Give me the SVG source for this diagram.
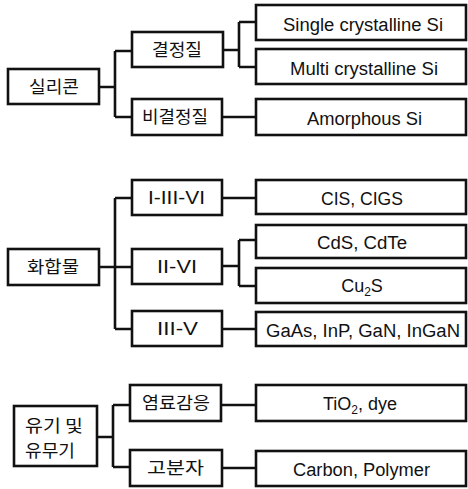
<svg xmlns="http://www.w3.org/2000/svg" width="468" height="489" viewBox="0 0 468 489">
<style>
rect{fill:#fff;stroke:#111;stroke-width:2.6}
.c{fill:none;stroke:#111;stroke-width:2.6}
text{font-family:"Liberation Sans",Arial,sans-serif;font-size:18px;fill:#111;text-anchor:middle}
.k{font-family:"Noto Sans CJK KR","Noto Sans",sans-serif;font-size:17px}
</style>
<rect x="0" y="0" width="468" height="489" style="fill:#fff;stroke:none"/>
<g id="connectors">
<path class="c" d="M99 87H115M115 51V117M115 51H132M115 117H132"/>
<path class="c" d="M223 50H239M239 22V67M239 22H256M239 67H256"/>
<path class="c" d="M222 117H256"/>
<path class="c" d="M99 267H115M115 198V329M115 198H132M115 267H132M115 329H132"/>
<path class="c" d="M222 198H256"/>
<path class="c" d="M222 266H239M239 240V286M239 240H256M239 286H256"/>
<path class="c" d="M222 329H256"/>
<path class="c" d="M97 437H113M113 405V467M113 405H130M113 467H130"/>
<path class="c" d="M221 405H256"/>
<path class="c" d="M222 468H256"/>
</g>
<g id="silicon"><rect x="8" y="69" width="91" height="35"/><text class="k" x="54" y="93" textLength="50" lengthAdjust="spacingAndGlyphs">실리콘</text></g>
<g id="crystalline"><rect x="132" y="32" width="91" height="35"/><text class="k" x="177" y="56" textLength="50" lengthAdjust="spacingAndGlyphs">결정질</text></g>
<g id="amorphous-k"><rect x="132" y="99" width="90" height="36"/><text class="k" x="175" y="123" textLength="66" lengthAdjust="spacingAndGlyphs">비결정질</text></g>
<g id="single"><rect x="256" y="5" width="210" height="35"/><text x="363" y="31" textLength="160" lengthAdjust="spacingAndGlyphs">Single crystalline Si</text></g>
<g id="multi"><rect x="256" y="49" width="210" height="35"/><text x="364" y="75" textLength="148" lengthAdjust="spacingAndGlyphs">Multi crystalline Si</text></g>
<g id="amorphous"><rect x="256" y="99" width="210" height="36"/><text x="364.5" y="125" textLength="115" lengthAdjust="spacingAndGlyphs">Amorphous Si</text></g>
<g id="compound"><rect x="8" y="249" width="91" height="36"/><text class="k" x="53" y="273" textLength="52" lengthAdjust="spacingAndGlyphs">화합물</text></g>
<g id="i-iii-vi"><rect x="132" y="180" width="90" height="35"/><text x="176.5" y="204" font-size="16" textLength="57" lengthAdjust="spacingAndGlyphs">I-III-VI</text></g>
<g id="ii-vi"><rect x="132" y="249" width="90" height="35"/><text x="177" y="273" font-size="16" textLength="40" lengthAdjust="spacingAndGlyphs">II-VI</text></g>
<g id="iii-v"><rect x="132" y="311" width="90" height="35"/><text x="177.5" y="335" font-size="16" textLength="41" lengthAdjust="spacingAndGlyphs">III-V</text></g>
<g id="cis"><rect x="256" y="180" width="210" height="34"/><text x="362" y="205" textLength="82" lengthAdjust="spacingAndGlyphs">CIS, CIGS</text></g>
<g id="cds"><rect x="256" y="225" width="210" height="33"/><text x="362" y="249" textLength="90" lengthAdjust="spacingAndGlyphs">CdS, CdTe</text></g>
<g id="cu2s"><rect x="256" y="268" width="210" height="35"/><text x="362" y="292">Cu<tspan font-size="12" dy="4">2</tspan><tspan dy="-4">S</tspan></text></g>
<g id="gaas"><rect x="256" y="312" width="210" height="34"/><text x="363" y="337" textLength="194" lengthAdjust="spacingAndGlyphs">GaAs, InP, GaN, InGaN</text></g>
<g id="organic"><rect x="14" y="406" width="83" height="60"/><text class="k" x="54" y="432" textLength="58" lengthAdjust="spacingAndGlyphs">유기 및</text><text class="k" x="50" y="457" textLength="50" lengthAdjust="spacingAndGlyphs">유무기</text></g>
<g id="dye"><rect x="130" y="385" width="91" height="36"/><text class="k" x="176" y="409" textLength="68" lengthAdjust="spacingAndGlyphs">염료감응</text></g>
<g id="polymer-k"><rect x="130" y="450" width="92" height="36"/><text class="k" x="175.5" y="474" textLength="57" lengthAdjust="spacingAndGlyphs">고분자</text></g>
<g id="tio2"><rect x="256" y="385" width="210" height="36"/><text x="360" y="410">TiO<tspan font-size="12" dy="4">2</tspan><tspan dy="-4">, dye</tspan></text></g>
<g id="carbon"><rect x="256" y="451" width="210" height="35"/><text x="361.5" y="476" textLength="137" lengthAdjust="spacingAndGlyphs">Carbon, Polymer</text></g>
</svg>
